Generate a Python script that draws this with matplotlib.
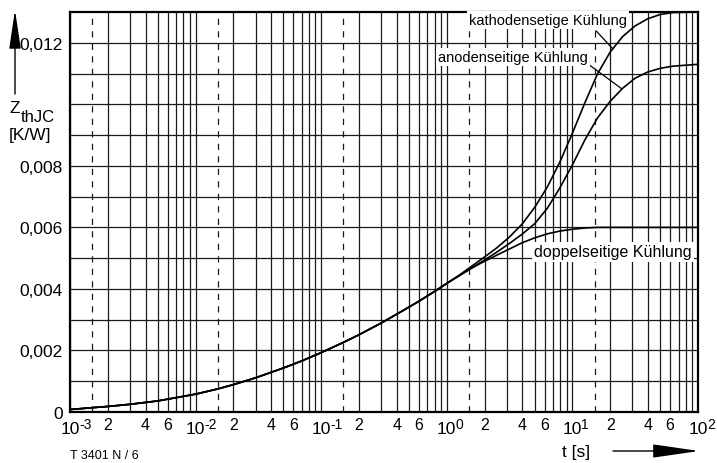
import numpy as np
import matplotlib.pyplot as plt
from matplotlib.ticker import FixedLocator, NullFormatter

plt.rcParams['font.family'] = ['Liberation Sans', 'DejaVu Sans']

# ------------------------------- data ---------------------------------------
# all three curves are identical up to about 1 s  (Z in K/W)
t_common = [1e-3, 1.5e-3, 2e-3, 3e-3, 5e-3, 1e-2, 1.5e-2, 2e-2, 3e-2, 5e-2, 7e-2,
            0.1, 0.15, 0.2, 0.3, 0.4, 0.5, 0.6, 0.8, 1.0]
z_common = [0.00008, 0.00014, 0.00018, 0.00025, 0.00036, 0.00058, 0.00075, 0.00089, 0.00111,
            0.00143, 0.00166, 0.00193, 0.00226, 0.00251, 0.00289, 0.00318, 0.00341, 0.00360,
            0.00392, 0.00418]

# kathodenseitige Kuehlung
t_kath = [1.26, 1.58, 2.0, 2.51, 3.16, 3.98, 5.01, 6.31, 7.94, 10.0, 12.6, 15.8, 20.0,
          25.1, 31.6, 39.8, 50.1, 63.1, 100]
z_kath = [0.00445, 0.00474, 0.00504, 0.00534, 0.00569, 0.00611, 0.00665, 0.00731, 0.00812,
          0.00906, 0.01006, 0.01098, 0.0117, 0.0122, 0.01255, 0.01278, 0.01292, 0.01298, 0.0130]

# anodenseitige Kuehlung
t_anod = [1.26, 1.58, 2.0, 2.51, 3.16, 3.98, 5.01, 6.31, 7.94, 10.0, 12.6, 15.8, 20.0,
          25.1, 31.6, 39.8, 50.1, 63.1, 100]
z_anod = [0.00443, 0.00468, 0.00494, 0.0052, 0.00548, 0.00578, 0.00612, 0.00662, 0.00728,
          0.00803, 0.00885, 0.00955, 0.0101, 0.01052, 0.01085, 0.01105, 0.01117, 0.01124, 0.0113]

# doppelseitige Kuehlung
t_dopp = [1.26, 1.58, 2.0, 2.51, 3.16, 3.98, 5.01, 6.31, 7.94, 10.0, 12.6, 15.8, 100]
z_dopp = [0.00444, 0.00468, 0.0049, 0.0051, 0.0053, 0.0055, 0.00566, 0.00579, 0.00588,
          0.00594, 0.00598, 0.006, 0.006]

y_ticks = [0, 0.002, 0.004, 0.006, 0.008, 0.012]
y_labels = ['0', '0,002', '0,004', '0,006', '0,008', '0,012']
decades = [-3, -2, -1, 0, 1, 2]
minor_labels = ['2', '4', '6']

# ------------------------------ plotting ------------------------------------
fig = plt.figure(figsize=(7.17, 4.64), dpi=100)
ax = fig.add_axes([70 / 717, 51 / 464, 628 / 717, 400 / 464])

ax.set_xscale('log')
ax.set_xlim(1e-3, 1e2)
ax.set_ylim(0, 0.013)

# grid: 1..9 in every decade, plus dashed line at 1.5
minor_pos = [k * 10.0 ** d for d in decades[:-1] for k in range(2, 10)]
ax.xaxis.set_major_locator(FixedLocator([10.0 ** d for d in decades]))
ax.xaxis.set_minor_locator(FixedLocator(minor_pos))
ax.xaxis.set_major_formatter(NullFormatter())
ax.xaxis.set_minor_formatter(NullFormatter())
ax.yaxis.set_major_locator(FixedLocator(y_ticks))
ax.yaxis.set_minor_locator(FixedLocator(np.arange(0.001, 0.013, 0.001)))
ax.set_yticklabels(y_labels, fontsize=12.5)
ax.tick_params(which='both', length=0, pad=5)
ax.grid(which='both', color='#1a1a1a', lw=0.9)
for d in decades[:-1]:
    ax.axvline(1.5 * 10.0 ** d, color='#1a1a1a', lw=0.9, ls=(0, (5, 5)))
for s in ax.spines.values():
    s.set_linewidth(1.6)

# x labels: "10" centred on the decade line, exponent to the right
for d in decades:
    ax.annotate('10', xy=(10.0 ** d, 0), xycoords=('data', 'axes fraction'),
                xytext=(0, -6.5), textcoords='offset points', ha='center', va='top', fontsize=12.5)
    ax.annotate(str(d), xy=(10.0 ** d, 0), xycoords=('data', 'axes fraction'),
                xytext=(6.5, -3.5), textcoords='offset points', ha='left', va='top', fontsize=10)
    if d < 2:
        for k in minor_labels:
            ax.annotate(k, xy=(int(k) * 10.0 ** d, 0), xycoords=('data', 'axes fraction'),
                        xytext=(0, -3.5), textcoords='offset points', ha='center', va='top',
                        fontsize=11.5)

ax.plot(t_common + t_kath, z_common + z_kath, color='black', lw=1.2, zorder=5)
ax.plot(t_common + t_anod, z_common + z_anod, color='black', lw=1.2, zorder=5)
ax.plot(t_common + t_dopp, z_common + z_dopp, color='black', lw=1.2, zorder=5)

box = dict(facecolor='white', edgecolor='none', pad=1.5)
ax.annotate('kathodensetige Kühlung', xy=(21, 0.0118), xytext=(27.2, 0.01275),
            ha='right', va='center', fontsize=10.5, bbox=box, zorder=6,
            arrowprops=dict(arrowstyle='-', lw=0.9, color='black', shrinkA=2, shrinkB=0,
                            relpos=(0.78, 0)))
ax.annotate('anodenseitige Kühlung', xy=(24.8, 0.0105), xytext=(13.3, 0.01154),
            ha='right', va='center', fontsize=10.5, bbox=box, zorder=6,
            arrowprops=dict(arrowstyle='-', lw=0.9, color='black', shrinkA=0, shrinkB=0,
                            relpos=(1.0, 0)))
ax.text(89.5, 0.0052, 'doppelseitige Kühlung', ha='right', va='center', fontsize=11.5,
        bbox=box, zorder=6)

# axis labels with arrows
fig.text(10, 464 - 113, 'Z', transform=None, fontsize=12.5, va='baseline')
fig.text(20.5, 464 - 122, 'thJC', transform=None, fontsize=12, va='baseline')
fig.text(9, 464 - 140, '[K/W]', transform=None, fontsize=12.5, va='baseline')
ax.annotate('', xy=(15, 464 - 11), xytext=(15, 464 - 95), xycoords='figure pixels',
            textcoords='figure pixels',
            arrowprops=dict(arrowstyle='-|>,head_length=2.4,head_width=0.36', lw=1.0,
                            color='black', mutation_scale=10, shrinkA=0, shrinkB=0))
fig.text(576, 464 - 453, 't [s]', transform=None, fontsize=12.5, ha='center', va='center')
ax.annotate('', xy=(699, 464 - 452), xytext=(613, 464 - 452), xycoords='figure pixels',
            textcoords='figure pixels',
            arrowprops=dict(arrowstyle='-|>,head_length=2.9,head_width=0.42', lw=1.0,
                            color='black', mutation_scale=10, shrinkA=0, shrinkB=0))
fig.text(70, 464 - 456, 'T 3401 N / 6', transform=None, fontsize=9, va='center')

fig.savefig('out.png', dpi=100)
